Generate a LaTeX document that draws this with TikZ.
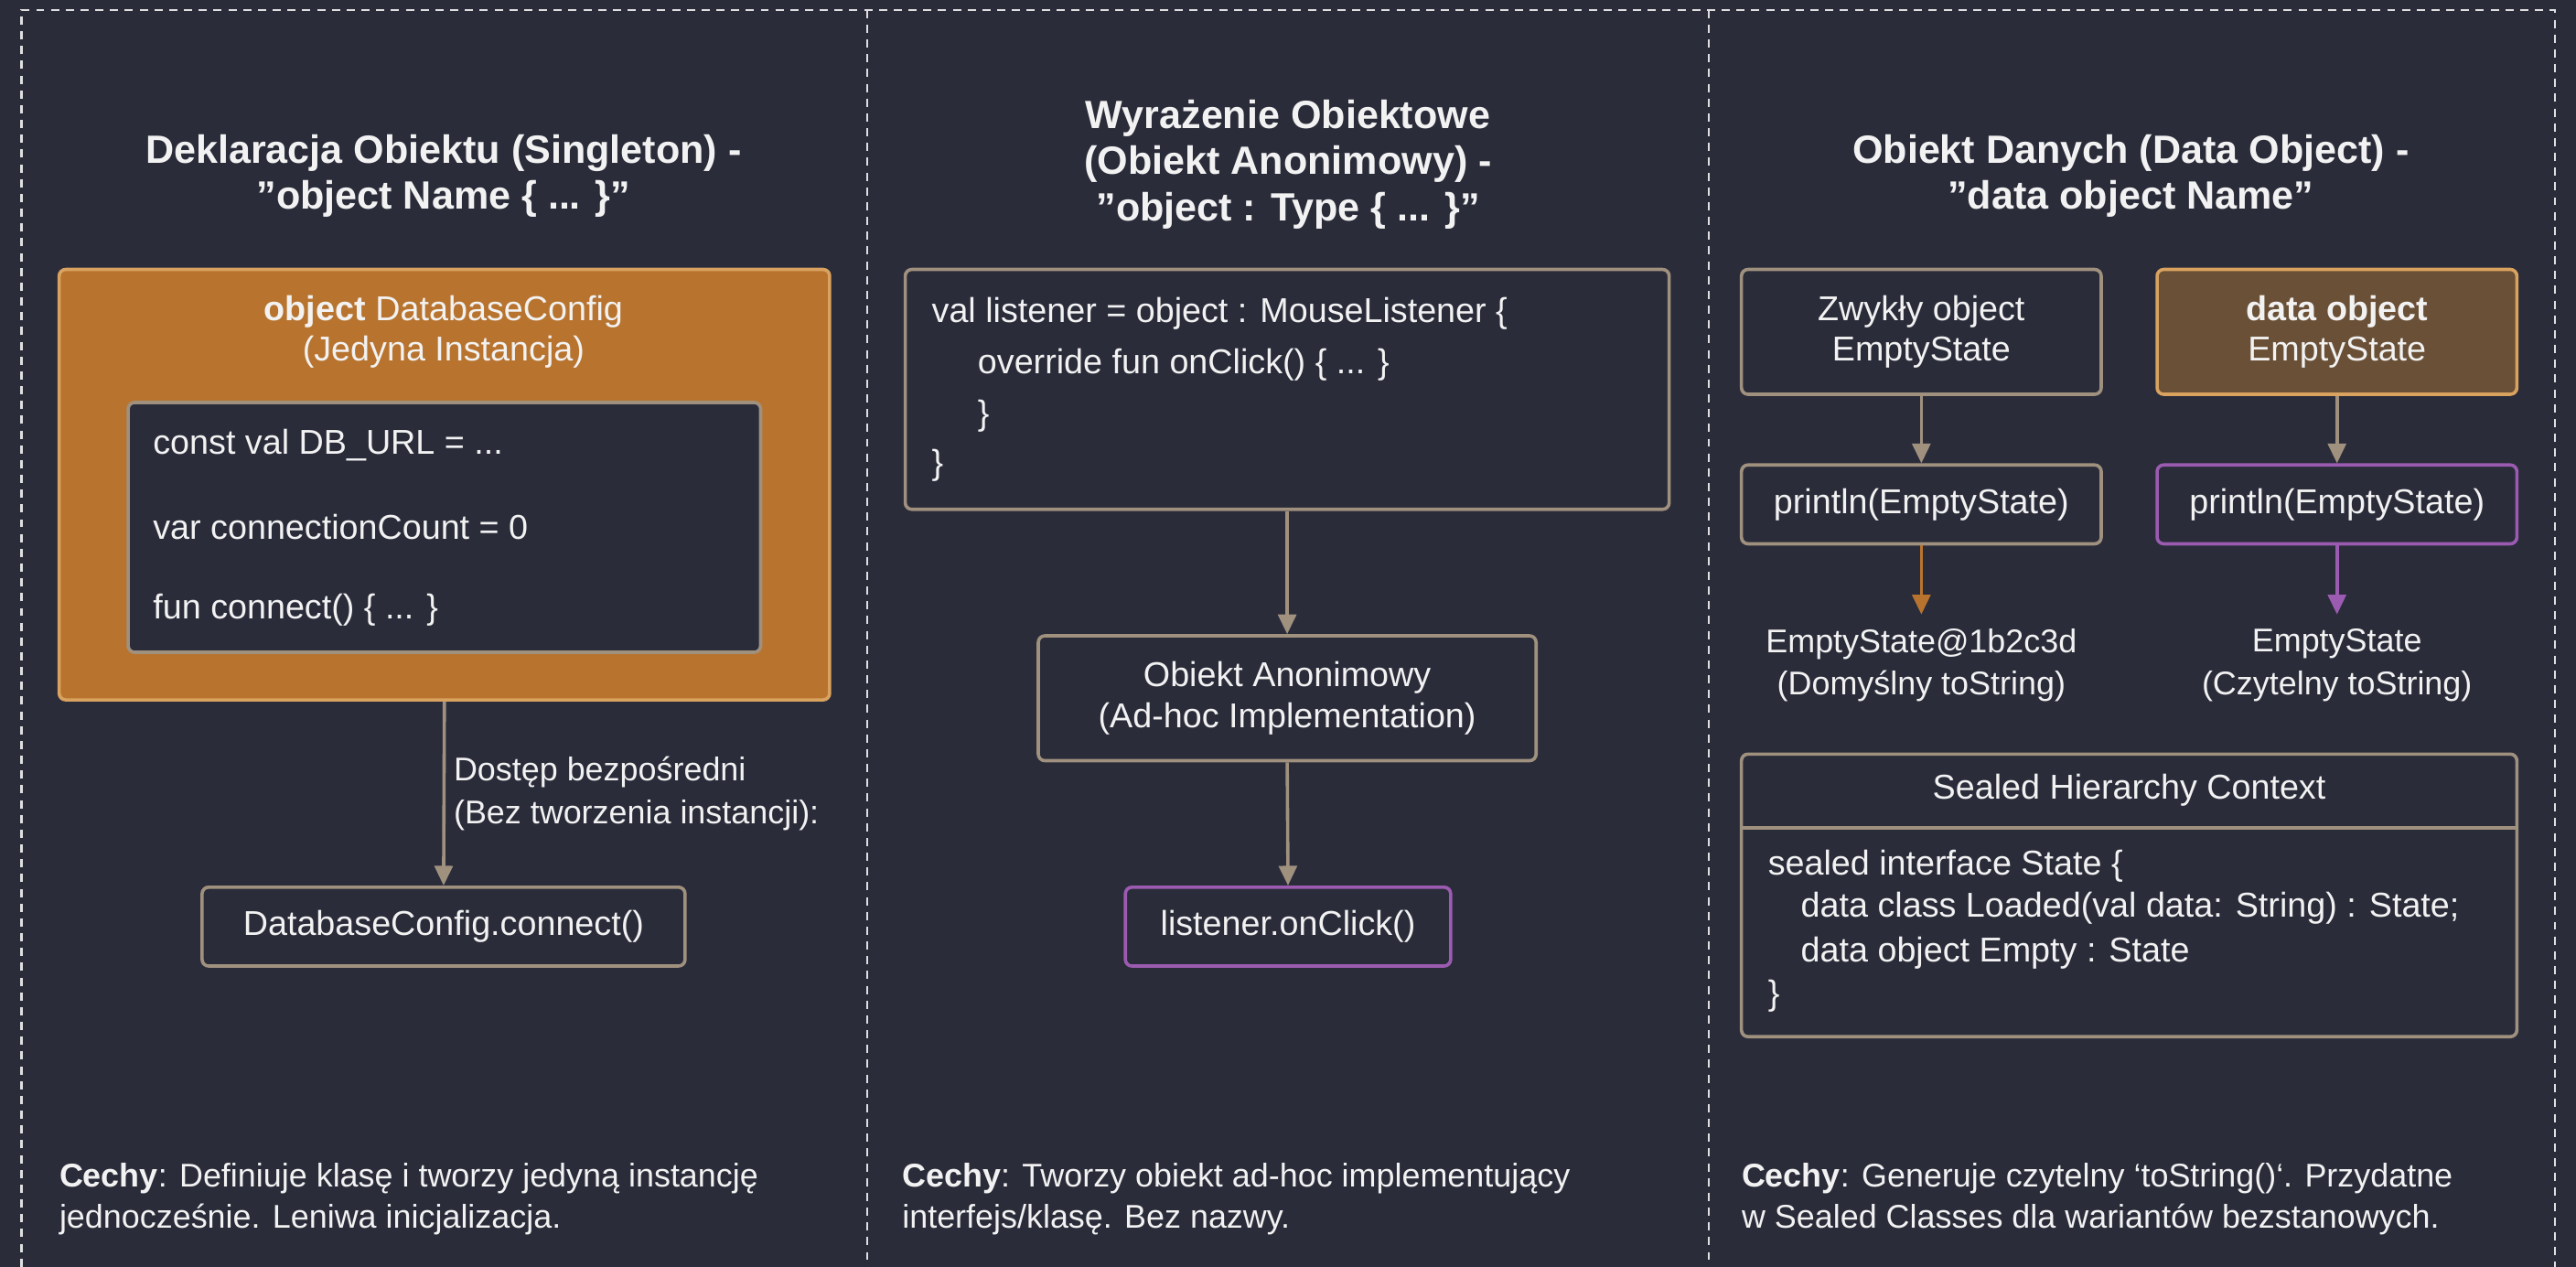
\documentclass[tikz,border=0pt]{standalone}
\usepackage{fontspec}
\setmainfont{Liberation Sans}
\usetikzlibrary{arrows.meta}
\definecolor{bg}{HTML}{2A2C3A}
\definecolor{edge}{HTML}{A0917F}
\definecolor{org}{HTML}{B8742F}
\definecolor{orgdk}{HTML}{6A5036}
\definecolor{orgb}{HTML}{D9A25F}
\definecolor{pur}{HTML}{9B5BB0}
\definecolor{txt}{HTML}{F2F2F2}
\begin{document}
\begin{tikzpicture}[x=1pt,y=-1pt,
  box/.style={draw=edge,line width=2pt,rounded corners=4pt,fill=bg},
  t/.style={text=txt,font=\fontsize{21}{25}\selectfont,inner sep=0pt},
  ttl/.style={text=txt,font=\fontsize{24}{28}\selectfont\bfseries,align=center,inner sep=0pt},
  ft/.style={text=txt,font=\fontsize{20}{25}\selectfont,anchor=west,inner sep=0pt},
  arr/.style={draw=edge,line width=2pt,-{Triangle[length=12pt,width=11pt]}},
  dsh/.style={draw=white!85!bg,line width=1.3pt,dash pattern=on 5pt off 4pt}]
\fill[bg] (0,0) rectangle (1568,771);
\useasboundingbox (0,0) rectangle (1568,771);
\draw[dsh] (13,771)--(13,6)--(1555,6)--(1555,771);
\draw[dsh] (528,6)--(528,771);
\draw[dsh] (1040,6)--(1040,771);
% panel 1
\node[ttl] (t1) at (270,107) {Deklaracja Obiektu (Singleton) -\\"object Name \{ ... \}"};
\node[draw=orgb,line width=2pt,fill=org,rounded corners=4pt,minimum width=469pt,minimum height=262pt] (ob) at (270.5,295) {};
\node[t,align=center] (obt) at (270,202) {\textbf{object} DatabaseConfig\\(Jedyna Instancja)};
\node[box,minimum width=385pt,minimum height=152pt] (in) at (270.5,321) {};
\node[t,anchor=west] (l1) at (93,271) {const val DB\_URL = ...};
\node[t,anchor=west] (l2) at (93,321) {var connectionCount = 0};
\node[t,anchor=west] (l3) at (93,371) {fun connect() \{ ... \}};
\node[box,minimum width=294pt,minimum height=48pt,t] (dc) at (270,564) {DatabaseConfig.connect()};
\draw[arr] (ob.south) -- (dc.north);
\node[t,anchor=west,align=left,font=\fontsize{20}{26}\selectfont] (lab) at (276,483) {Dostęp bezpośredni\\(Bez tworzenia instancji):};
% panel 2
\node[ttl] (t2) at (784,100) {Wyrażenie Obiektowe\\(Obiekt Anonimowy) -\\"object : Type \{ ... \}"};
\node[box,minimum width=465pt,minimum height=146pt] (vl) at (783.5,237) {};
\node[t,anchor=west] (v1) at (567,191) {val listener = object : MouseListener \{};
\node[t,anchor=west] (v2) at (595,222) {override fun onClick() \{ ... \}};
\node[t,anchor=west] (v3) at (595,253) {\}};
\node[t,anchor=west] (v4) at (567,283) {\}};
\node[box,minimum width=303pt,minimum height=76pt,t,align=center] (oa) at (783.5,425) {Obiekt Anonimowy\\(Ad-hoc Implementation)};
\node[box,draw=pur,minimum width=198pt,minimum height=48pt,t] (lc) at (784,564) {listener.onClick()};
\draw[arr] (vl.south) -- (oa.north);
\draw[arr] (oa.south) -- (lc.north);
% panel 3
\node[ttl] (t3) at (1297,107) {Obiekt Danych (Data Object) -\\"data object Name"};
\node[box,minimum width=219pt,minimum height=76pt,t,align=center] (za) at (1169.5,202) {Zwykły object\\EmptyState};
\node[box,draw=orgb,fill=orgdk,minimum width=219pt,minimum height=76pt,t,align=center] (zb) at (1422.5,202) {\textbf{data object}\\EmptyState};
\node[box,minimum width=219pt,minimum height=48pt,t] (pa) at (1169.5,307) {println(EmptyState)};
\node[box,draw=pur,minimum width=219pt,minimum height=48pt,t] (pb) at (1422.5,307) {println(EmptyState)};
\draw[arr] (za.south) -- (pa.north);
\draw[arr] (zb.south) -- (pb.north);
\coordinate (ea) at (1169.5,374);
\coordinate (eb) at (1422.5,374);
\draw[arr,draw=org] (pa.south) -- (ea);
\draw[arr,draw=pur] (pb.south) -- (eb);
\node[t,align=center,font=\fontsize{20}{26}\selectfont] (ra) at (1169.5,405) {EmptyState@1b2c3d\\(Domyślny toString)};
\node[t,align=center,font=\fontsize{20}{26}\selectfont] (rb) at (1422.5,405) {EmptyState\\(Czytelny toString)};
\node[box,minimum width=472pt,minimum height=172pt] (sh) at (1296,545) {};
\draw[edge,line width=2pt] (1060,504) -- (1532,504);
\node[t] (sht) at (1296,481) {Sealed Hierarchy Context};
\node[t,anchor=west] (s1) at (1076,527) {sealed interface State \{};
\node[t,anchor=west] (s2) at (1096,553) {data class Loaded(val data: String) : State;};
\node[t,anchor=west] (s3) at (1096,580) {data object Empty : State};
\node[t,anchor=west] (s4) at (1076,606) {\}};
% footers
\node[ft,align=left] (f1) at (36,730) {\textbf{Cechy}: Definiuje klasę i tworzy jedyną instancję\\jednocześnie. Leniwa inicjalizacja.};
\node[ft,align=left] (f2) at (549,730) {\textbf{Cechy}: Tworzy obiekt ad-hoc implementujący\\interfejs/klasę. Bez nazwy.};
\node[ft,align=left] (f3) at (1060,730) {\textbf{Cechy}: Generuje czytelny `toString()`. Przydatne\\w Sealed Classes dla wariantów bezstanowych.};
\end{tikzpicture}
\end{document}
